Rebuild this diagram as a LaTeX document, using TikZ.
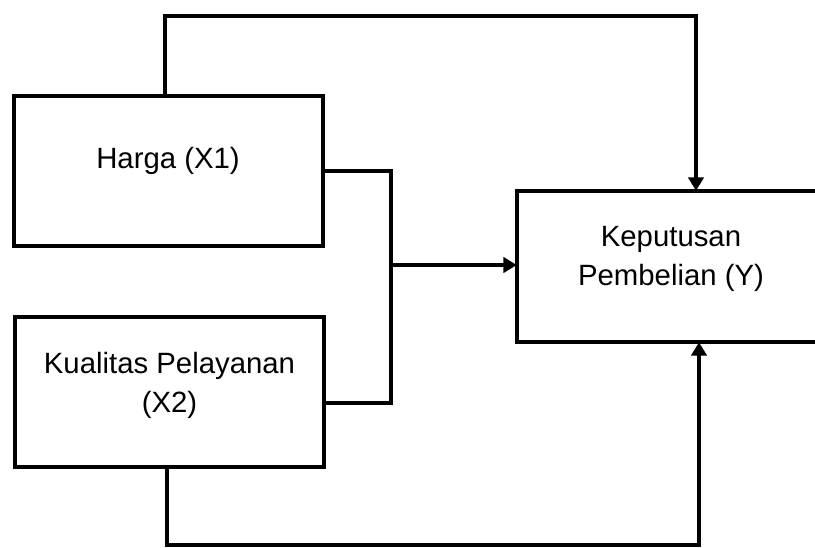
\documentclass[tikz,border=0pt]{standalone}
\usepackage{fontspec}
\setmainfont{Liberation Sans}
\usetikzlibrary{arrows.meta}
\begin{document}
\begin{tikzpicture}[x=0.75pt,y=-0.75pt,
  box/.style={draw=black,line width=3pt,rectangle,inner sep=0pt,minimum width=231.75pt,minimum height=112.5pt},
  lbl/.style={font=\fontsize{22pt}{29.25pt}\selectfont,align=center,inner sep=0pt},
  conn/.style={line width=3pt,line cap=rect},
  arr/.style={line width=3pt,-{Triangle[length=10pt,width=11.5pt]}}]
\useasboundingbox (0,0) rectangle (815,547);
\node[box] (x1) at (168,171) {};
\node[box] (x2) at (169.5,392) {};
\node[draw=none,inner sep=0pt,minimum width=234pt,minimum height=113.25pt] (y) at (673,266.5) {};
\begin{scope}
\clip (0,0) rectangle (815,547);
\draw[line width=3pt] (y.north east) -- (y.north west) -- (y.south west) -- (y.south east);
\end{scope}
\node[lbl,anchor=base] (t1) at (168,168) {Harga (X1)};
\node[lbl,anchor=base] (t2) at (169.5,412) {Kualitas Pelayanan\\(X2)};
\node[lbl,anchor=base] (t3) at (671,285) {Keputusan\\Pembelian (Y)};
\coordinate (jn) at (391,265);
\draw[conn] (x1.east |- 0,171) -| (jn) |- (x2.east |- 0,403);
\draw[arr] (jn) -- (jn -| y.west);
\draw[arr] (165,0 |- x1.north) -- (165,16) -| (696,0 |- y.north);
\draw[arr] (167,0 |- x2.south) -- (167,545) -| (699,0 |- y.south);
\end{tikzpicture}
\end{document}
